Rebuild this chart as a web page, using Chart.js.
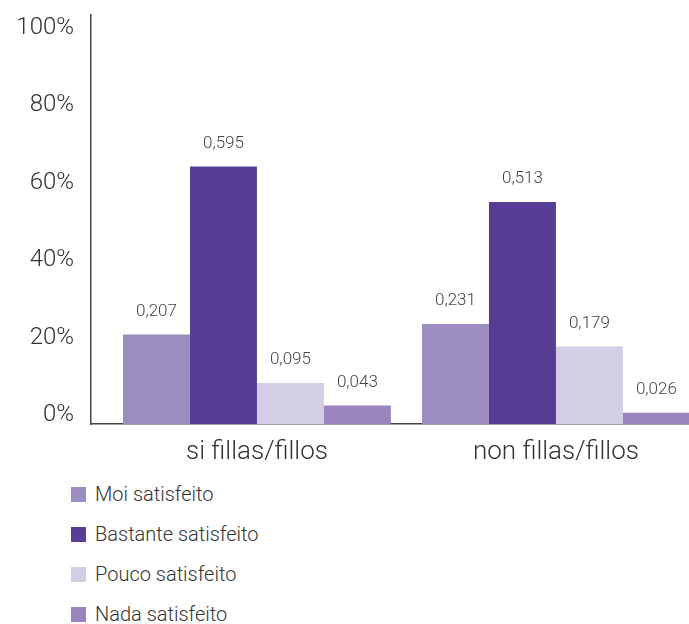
<!DOCTYPE html>
<html>
<head>
<meta charset="utf-8">
<script src="https://cdn.jsdelivr.net/npm/chart.js@4/dist/chart.umd.min.js"></script>
<style>
  html, body { margin: 0; padding: 0; background: #fff; overflow: hidden; }
  #wrap { position: relative; width: 689px; height: 470px; }
  #legend { margin: 4px 0 0 0; padding: 0; list-style: none; }
  #legend li { height: 40px; display: flex; align-items: center; padding-left: 71px;
    font-family: Roboto, "Noto Sans", sans-serif; font-weight: 300; font-size: 20px; color: #333; }
  #legend span.box { width: 15px; height: 15px; margin-right: 9px; display: inline-block; }
</style>
</head>
<body>
<div id="wrap"><canvas id="satisfaction_chart"></canvas></div>
<ul id="legend"></ul>
<script>
// categories and series
const categories = ["si fillas/fillos", "non fillas/fillos"]
const series_labels = ["Moi satisfeito", "Bastante satisfeito", "Pouco satisfeito", "Nada satisfeito"]
const moi_values = [0.207, 0.231]
const bastante_values = [0.595, 0.513]
const pouco_values = [0.095, 0.179]
const nada_values = [0.043, 0.026]
const y_tick_values = [0, 0.2, 0.4, 0.6, 0.8, 1]

const series_values = [moi_values, bastante_values, pouco_values, nada_values]
const colors = ['#9b8dc0', '#553d94', '#d3cee6', '#9a84be']

const font_family = 'Roboto, "Noto Sans", sans-serif'

// one dataset per satisfaction level, x is the category index
const datasets = series_values.map((vals, i) => ({
  label: series_labels[i],
  data: vals.map((v, j) => ({ x: j, y: v })),
  backgroundColor: colors[i],
  borderWidth: 0,
  categoryPercentage: 0.896,
  barPercentage: 1,
  yAxisID: 'y'
}))

// small plugin that writes the value above each bar, with a comma
const value_labels = {
  id: 'value_labels',
  afterDatasetsDraw(chart) {
    const ctx = chart.ctx
    ctx.save()
    ctx.font = '300 17px ' + font_family
    ctx.fillStyle = '#444'
    ctx.textAlign = 'center'
    ctx.textBaseline = 'middle'
    chart.data.datasets.forEach((ds, i) => {
      chart.getDatasetMeta(i).data.forEach((bar, j) => {
        const txt = ds.data[j].y.toFixed(3).replace('.', ',')
        ctx.fillText(txt, bar.x, bar.y - 23)
      })
    })
    ctx.restore()
  }
}

const chart = new Chart(document.getElementById('satisfaction_chart'), {
  type: 'bar',
  data: { datasets: datasets },
  options: {
    responsive: true,
    maintainAspectRatio: false,
    animation: false,
    layout: { padding: { top: 15, right: 0, left: 0, bottom: 0 } },
    plugins: {
      legend: { display: false },
      tooltip: { enabled: false }
    },
    scales: {
      x: {
        type: 'linear',
        min: -0.555,
        max: 1.445,
        offset: false,
        grid: { display: false, drawTicks: false },
        border: { display: true, color: '#444', width: 1.5 },
        afterBuildTicks: (scale) => { scale.ticks = categories.map((c, i) => ({ value: i })) },
        afterFit: (scale) => { scale.height = 46; scale.paddingLeft = 0; scale.paddingRight = 0 },
        ticks: {
          padding: 13,
          color: '#333',
          font: { family: font_family, size: 26, weight: 300 },
          callback: (v) => categories[v]
        }
      },
      // bar scale, hidden
      y: {
        display: false,
        min: 0,
        max: 0.945
      },
      // percentage labels on the left, as in the picture
      y2: {
        position: 'left',
        min: -0.0233,
        max: 1.0336,
        grid: { display: false, drawTicks: false },
        border: { display: true, color: '#444', width: 1.5 },
        afterBuildTicks: (scale) => { scale.ticks = y_tick_values.map(v => ({ value: v })) },
        afterFit: (scale) => { scale.width = 91; scale.paddingTop = 0; scale.paddingBottom = 0 },
        ticks: {
          padding: 17,
          color: '#333',
          font: { family: font_family, size: 24, weight: 300 },
          callback: (v) => Math.round(v * 100) + '%'
        }
      }
    }
  },
  plugins: [value_labels]
})

// html legend, one per line
const legend_ul = document.getElementById('legend')
chart.options.plugins.legend.labels.generateLabels(chart).forEach(item => {
  const li = document.createElement('li')
  const box = document.createElement('span')
  box.className = 'box'
  box.style.background = item.fillStyle
  li.appendChild(box)
  li.appendChild(document.createTextNode(item.text))
  legend_ul.appendChild(li)
})
</script>
</body>
</html>
